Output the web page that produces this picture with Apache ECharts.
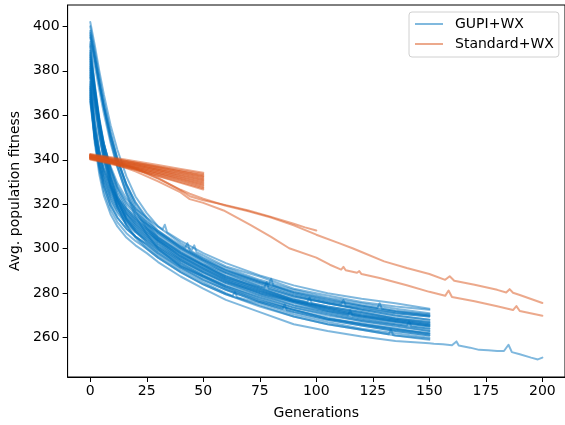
<!DOCTYPE html>
<html>
<head>
<meta charset="utf-8">
<script src="https://cdn.jsdelivr.net/npm/echarts@6/dist/echarts.min.js"></script>
<style>html,body{margin:0;padding:0;background:#fff;}#c{width:565px;height:425px;}</style>
</head>
<body>
<div id="c"></div>
<script>
// ---------- data ----------
const X_TICKS = [0, 25, 50, 75, 100, 125, 150, 175, 200];
const Y_TICKS = [260, 280, 300, 320, 340, 360, 380, 400];

const BLUE_NAME = 'GUPI+WX';
const ORANGE_NAME = 'Standard+WX';

// generations at which each GUPI+WX run is read
const BLUE_GENS = [0, 2, 4, 6, 9, 12, 16, 20, 25, 30, 40, 50, 60, 75, 90, 105, 120, 135, 150];
const blue01 = [402,391.5,380,369.5,355.5,344.5,332.5,323.5,316,310,302.5,297,292,287.5,282,279,276,274,272.5];
const blue02 = [398,387,375,363.5,349,337,324.5,314.5,306.5,300,292,287.5,282.5,276.5,272.5,268.5,266.5,264,261.5];
const blue03 = [395,385,374,364,351,340,329,321,314,308,300.5,295,290,285,280.5,277.5,274.5,272,270.5];
const blue04 = [393,382.5,371.5,361,347.5,336.5,325,316.5,309,303,295.5,290.5,285.5,280,276,272,269,267,265];
const blue05 = [391,372.5,356,343,329,319,310.5,305,300,296,289.5,284,279.5,274.5,269.5,266,263.5,261,259.5];
const blue06 = [389,373,359,347.5,335,326.5,318.5,313.5,309,305,298.5,293,289,283,278.5,275.5,272.5,270,268];
const blue07 = [387,370.5,355.5,343.5,331,322,313.5,308.5,304,300.5,293.5,288,283,278,273.5,270.5,267.5,265.5,263];
const blue08 = [385,370,356,345,333.5,325,317.5,312.5,308,304,297.5,292.5,287.5,282,277.5,274,271.5,268.5,266.5];
const blue09 = [383,366.5,352,340,327.5,318.5,310.5,305.5,301,297,290.5,285,280,275.5,270.5,267,264,262,260];
const blue10 = [381,368.5,356.5,347,337,329.5,322.5,318,314,310,303.5,298,293.5,288,283.5,280,277.5,275.5,273];
const blue11 = [379,364.5,351.5,341,329.5,321.5,314,309.5,305,301,294.5,289.5,284.5,279,274.5,271.5,268.5,266,264];
const blue12 = [377,357.5,344.5,336,327.5,322,317,313.5,310,306,299.5,294,289.5,284.5,279.5,276,273.5,271,269.5];
const blue13 = [375,352,338,328.5,319.5,314,309,305.5,302,298,291.5,286,281.5,276,271.5,268,265.5,263,261];
const blue14 = [373,354,341.5,333,324.5,319,314,310.5,307,303,296.5,291,286.5,281,276.5,273,270,268,266];
const blue15 = [370,347.5,333.5,324,315.5,310,305,301.5,298,294,287.5,282,277,271.5,266,263,260.5,258.5,257.5];
const blue16 = [368,354,343.5,336,328.5,323,318,314.5,311,307,300.5,295,290.5,285,280.5,277,274.5,272,270];
const blue17 = [366,349,337.5,329.5,321.5,316,311,307.5,304,300,293.5,288,283.5,278.5,273.5,270,267.5,265,263];
const blue18 = [396,385.5,374,363.5,349.5,338.5,326.5,317.5,310,304,296.5,291,286,281,276.5,273.5,270.5,268,266];
const blue19 = [384,370,357.5,347,336,328,321,316.5,312,308,301.5,296,291.5,286,281.5,278,275.5,273,271];
const blue20 = [372,349.5,335.5,326,317.5,312,307,303.5,300,296,289.5,284,279.5,274,269.5,266,263.5,261,259];
const blue21 = [400,389,377.5,366.5,352.5,340.5,328.5,319,311.5,305,298,292.5,287,282.5,277,273.5,271,268.5,267];
const blue22 = [397,386.5,375.5,365,351.5,340.5,329,320.5,313,307,300,294.5,289,284,279,275.5,273,271,269.5];
const blue23 = [392,374,358,345,331.5,322,313,308,303,299,292.5,287.5,283,277.5,272.5,269,266,264,262];
const blue24 = [388,371.5,357,345,332.5,323.5,315.5,310.5,306,302,295,289.5,285,280.5,276,272.5,269.5,267.5,265.5];
const blue25 = [386,371.5,358,347.5,336,327.5,320,315.5,311,307.5,301,295.5,290.5,285.5,280,276.5,274,271.5,270];
const blue26 = [382,367.5,354,343.5,332,323.5,316,311.5,307,303.5,296.5,291.5,286.5,281.5,276.5,273,270,267.5,265.5];
const blue27 = [380,365,351,340,328.5,320,312.5,307.5,303,299.5,292.5,287,282,277,272.5,268.5,266,263.5,262];
const blue28 = [378,357.5,344,335,326.5,321,316,312.5,309,305,298.5,293,288,283,278.5,275.5,272.5,270,268];
const blue29 = [374,353.5,340,331,322.5,317,312,308.5,305,301,294.5,289,284.5,279.5,274.5,271,268,266,264];
const blue30 = [371,353.5,342,333.5,325.5,320,315,311.5,308,304,297.5,292,287.5,282,277,274,271.5,269,267];
const blue31 = [369,349.5,336.5,328,319.5,314,309,305.5,302,298,291.5,286,281.5,276,271.5,268,265.5,263,261];
const blue32 = [367,350.5,339.5,331.5,323.5,318,313,309.5,306,302,295.5,290,285.5,280,275.5,272,269.5,267,265];
const BLUE_RUNS = [blue01,blue02,blue03,blue04,blue05,blue06,blue07,blue08,blue09,blue10,
                   blue11,blue12,blue13,blue14,blue15,blue16,blue17,blue18,blue19,blue20,
                   blue21,blue22,blue23,blue24,blue25,blue26,blue27,blue28,blue29,blue30,blue31,blue32];

// small spikes: [run index, generation, value]
const BLUE_SPIKES = [
  [9,32,308.7],[9,33,310.8],[9,34,307.4],
  [18,42,300.4],[18,43,302.5],[18,44,299.3],
  [0,45,299.5],[0,46,301.5],[0,47,298.5],
  [5,77,282.5],[5,78,285],[5,79,282],
  [2,79,284],[2,80,286.5],[2,81,283.5],
  [7,96,276],[7,97,278],[7,98,275.5],
  [11,111,275],[11,112,277],[11,113,274.5],
  [3,114,270.2],[3,115,272.2],[3,116,270],
  [15,127,273.3],[15,128,275.5],[15,129,273],
  [4,132,261.5],[4,133,263.5],[4,134,261.2],
  [10,140,265.3],[10,141,267.3],[10,142,265],
  [12,85,273],[12,86,275],[12,87,272.3],
  [8,63,278.8],[8,64,280.5],[8,65,278.2]
];

// the single GUPI+WX run that continues to generation 200
const BLUE_LONG_RUN = 14;
const BLUE_LONG_GENS = [152,156,160,162,163,168,172,176,180,183,185,186.5,190,195,198,200];
const BLUE_LONG_VALS = [257.3,257,256.6,258.3,256.5,255.5,254.5,254.3,254,254,256.8,253.5,252.5,251,250.2,251];

// Standard+WX short runs (to generation 50)
const ORANGE_GENS = [0, 10, 20, 30, 40, 50];
const orange01 = [342.6,341.0,339.3,337.6,335.9,334.2];
const orange02 = [342.2,340.5,338.8,337.0,335.3,333.6];
const orange03 = [341.9,340.2,338.4,336.6,334.8,333.0];
const orange04 = [342.4,340.6,338.7,336.8,334.7,332.6];
const orange05 = [341.5,339.8,338.0,336.1,334.1,332.2];
const orange06 = [341.8,339.9,338.0,336.0,333.9,331.7];
const orange07 = [341.2,339.4,337.5,335.5,333.4,331.2];
const orange08 = [341.6,339.6,337.6,335.4,333.1,330.8];
const orange09 = [340.9,339.0,337.0,334.9,332.6,330.3];
const orange10 = [341.3,339.3,337.1,334.8,332.3,329.8];
const orange11 = [340.6,338.6,336.5,334.2,331.8,329.3];
const orange12 = [341.0,338.9,336.6,334.2,331.5,328.8];
const orange13 = [340.3,338.3,336.1,333.6,331.0,328.3];
const orange14 = [340.8,338.6,336.2,333.5,330.6,327.7];
const orange15 = [340.1,337.9,335.5,332.8,330.0,327.2];
const orange16 = [340.5,338.2,335.6,332.7,329.6,326.6];
const ORANGE_RUNS = [orange01,orange02,orange03,orange04,orange05,orange06,orange07,orange08,
                     orange09,orange10,orange11,orange12,orange13,orange14,orange15,orange16];

// Standard+WX longer runs
const ORANGE_A_GENS = [0,10,20,30,40,44,50,60,70,80,90,100,110,116,120,130,140,150,157,159,161,170,180,184,185.5,187,190,200];
const ORANGE_A_VALS = [341.8,339.2,335.8,331.5,326.5,324.7,322.5,319.3,316.8,314,310.5,306.3,302.5,300.2,298.5,294.3,291.3,288.6,286,287.6,285.6,283.8,281.5,280.3,281.8,280.2,279.2,275.6];
const ORANGE_B_GENS = [0,10,20,30,40,44,50,59,71,80,88,100,106,111,112,113,118,119,120,128,140,150,157,158.5,160,170,180,187,188.5,190,200];
const ORANGE_B_VALS = [341.0,338.4,334.8,330.3,325.3,322.3,320.6,317.2,310.6,305.3,300.2,296,292.8,290.6,291.8,290.3,289.2,289.9,288.6,286.8,283.6,280.6,278.8,281.2,278.3,276.4,274.1,272.4,274.2,272.0,269.8];
const ORANGE_C_GENS = [0,10,20,30,40,44,50,60,70,80,90,95,100];
const ORANGE_C_VALS = [342.1,339.6,336.2,331.8,326.2,323.6,321.8,319.6,317.2,314.3,311.2,309.6,308.2];

// ---------- chart ----------
const BLUE = '#0072BD';
const ORANGE = '#D95319';
const FONT = 'DejaVu Sans';
const FS = 14;

function lineSeries(name, color, pts) {
  return {
    name: name, type: 'line', data: pts, showSymbol: false, symbol: 'none',
    silent: true, animation: false, clip: true,
    lineStyle: { color: color, width: 2, opacity: 0.5, join: 'round', cap: 'round' },
    itemStyle: { color: color }
  };
}

const series = [];
BLUE_RUNS.forEach((vals, i) => {
  const pts = BLUE_GENS.map((g, j) => [g, vals[j]]);
  BLUE_SPIKES.filter(s => s[0] === i).forEach(s => pts.push([s[1], s[2]]));
  if (i === BLUE_LONG_RUN) BLUE_LONG_GENS.forEach((g, j) => pts.push([g, BLUE_LONG_VALS[j]]));
  pts.sort((a, b) => a[0] - b[0]);
  series.push(lineSeries(BLUE_NAME, BLUE, pts));
});
ORANGE_RUNS.forEach(vals => {
  series.push(lineSeries(ORANGE_NAME, ORANGE, ORANGE_GENS.map((g, j) => [g, vals[j]])));
});
[[ORANGE_C_GENS, ORANGE_C_VALS], [ORANGE_A_GENS, ORANGE_A_VALS], [ORANGE_B_GENS, ORANGE_B_VALS]].forEach(([gs, vs]) => {
  series.push(lineSeries(ORANGE_NAME, ORANGE, gs.map((g, j) => [g, vs[j]])));
});

const chart = echarts.init(document.getElementById('c'), null, { renderer: 'canvas' });
chart.setOption({
  animation: false,
  backgroundColor: '#fff',
  textStyle: { fontFamily: FONT },
  grid: { left: 66, top: 5, width: 499, height: 375, show: true, borderColor: '#000', borderWidth: 1, backgroundColor: 'transparent', containLabel: false },
  legend: {
    show: true, orient: 'vertical', left: 409, top: 12,
    padding: [4, 5, 5, 6], itemGap: 4, itemWidth: 28, itemHeight: 2,
    borderColor: '#d0d0d0', borderWidth: 1, borderRadius: 3, backgroundColor: 'rgba(255,255,255,0.8)',
    textStyle: { fontFamily: FONT, fontSize: FS, color: '#000', padding: [0, 0, 0, 7], lineHeight: 16 },
    selectedMode: false,
    data: [
      { name: BLUE_NAME, icon: 'rect', itemStyle: { color: '#80b9de', opacity: 1 } },
      { name: ORANGE_NAME, icon: 'rect', itemStyle: { color: '#eca98c', opacity: 1 } }
    ]
  },
  xAxis: {
    type: 'value', min: -10, max: 210,
    name: 'Generations', nameLocation: 'middle', nameGap: 29,
    nameTextStyle: { fontFamily: FONT, fontSize: FS, color: '#000' },
    axisLine: { show: true, onZero: false, lineStyle: { color: '#000', width: 1 } },
    axisTick: { show: true, inside: false, length: 5, lineStyle: { color: '#000' }, customValues: X_TICKS },
    axisLabel: { fontFamily: FONT, fontSize: FS, color: '#000', margin: 7, customValues: X_TICKS },
    splitLine: { show: false }
  },
  yAxis: {
    type: 'value', min: 242.3, max: 409.6,
    name: 'Avg. population fitness', nameLocation: 'middle', nameGap: 44, nameRotate: 90,
    nameTextStyle: { fontFamily: FONT, fontSize: FS, color: '#000' },
    axisLine: { show: true, onZero: false, lineStyle: { color: '#000', width: 1 } },
    axisTick: { show: true, inside: false, length: 5, lineStyle: { color: '#000' }, customValues: Y_TICKS },
    axisLabel: { fontFamily: FONT, fontSize: FS, color: '#000', margin: 8, customValues: Y_TICKS },
    splitLine: { show: false }
  },
  series: series
});
</script>
</body>
</html>
